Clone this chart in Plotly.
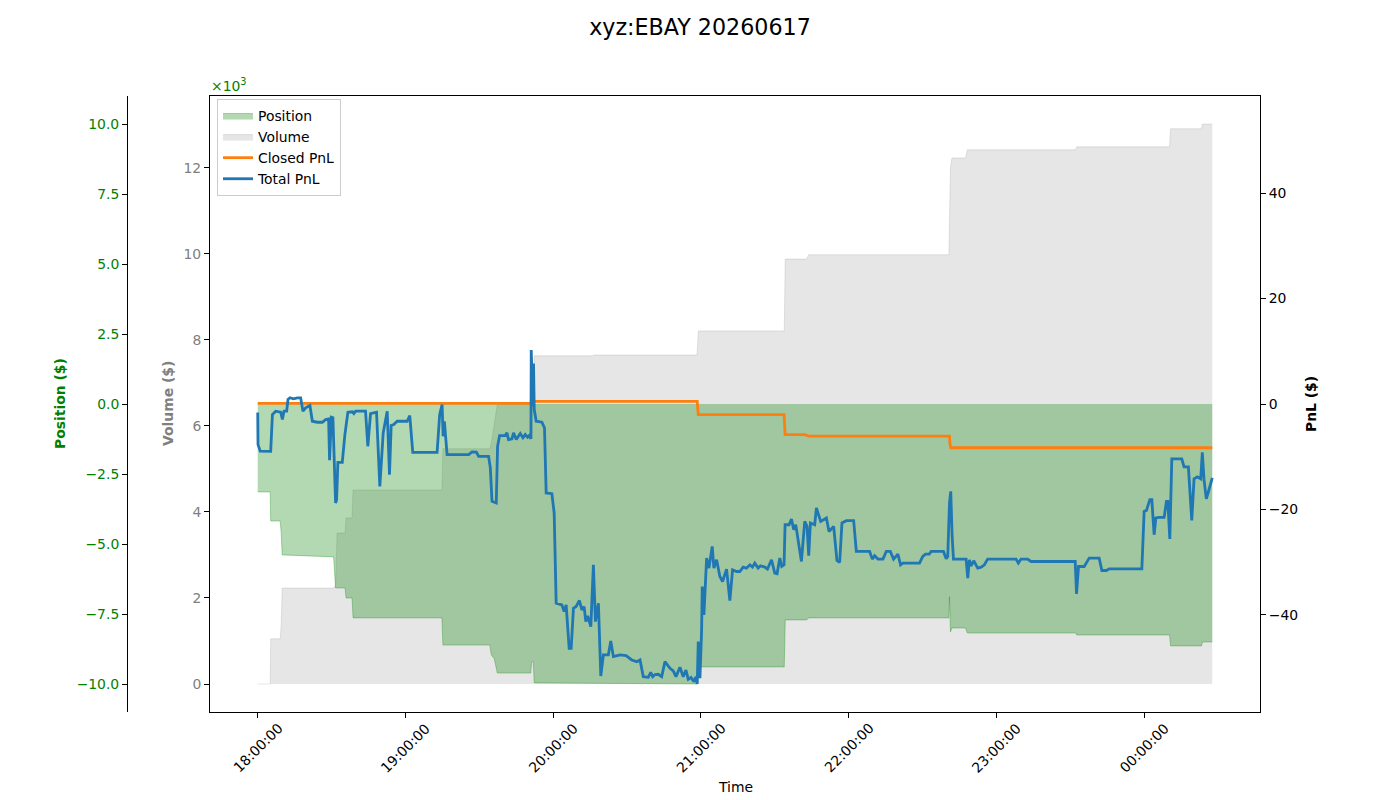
import plotly.graph_objects as go
from datetime import datetime, timedelta

SESSION_DATE = "2026-06-17"
TITLE = "xyz:EBAY 20260617"

# ---- Position / Volume (sampled at trade times) ----
pos_times = [
    "18:00:00", "18:05:04", "18:05:16", "18:09:07", "18:09:32", "18:09:56",
    "18:30:49", "18:31:37", "18:32:14", "18:35:28", "18:35:53", "18:38:19",
    "18:38:43", "19:14:48", "19:15:12", "19:34:15", "19:34:52", "19:36:05",
    "19:37:18", "19:50:53", "19:51:17", "19:51:53", "19:52:18", "20:16:01",
    "20:16:25", "20:57:34", "20:58:23", "20:58:59", "21:33:51", "21:34:15",
    "21:42:58", "21:43:47", "22:40:44", "22:40:57", "22:41:21", "22:41:57",
    "22:47:26", "22:48:14", "23:32:13", "23:32:37", "00:10:20", "00:10:44",
    "00:23:18", "00:23:42", "00:27:41",
]
position = [
    -3140, -3140, -4180, -4180, -4600, -5390,
    -5460, -6570, -6570, -6570, -6930, -6930,
    -7640, -7640, -8610, -8610, -8960, -9100,
    -9610, -9610, -9200, -9200, -9960, -9970,
    -9970, -9980, -10000, -9390, -9390, -7710,
    -7710, -7640, -7640, -6880, -8140, -8000,
    -8000, -8180, -8180, -8250, -8250, -8640,
    -8640, -8500, -8500,
]
volume = [
    0, 0, 1050, 1050, 1370, 2230,
    2230, 2300, 3510, 3510, 3860, 3860,
    4510, 4510, 5470, 5470, 5600, 6000,
    6500, 6500, 6950, 6950, 7630, 7630,
    7650, 7650, 7650, 8210, 8210, 9880,
    9880, 9980, 9980, 10770, 12000, 12230,
    12230, 12420, 12420, 12490, 12490, 12910,
    12910, 13020, 13020,
]

# ---- Total PnL ----
pnl_times = [
    "18:00:00", "18:00:07", "18:01:01", "18:05:16", "18:05:58", "18:07:18", "18:09:19", "18:10:01",
    "18:10:40", "18:11:45", "18:12:17", "18:13:06", "18:14:28", "18:16:06", "18:17:26", "18:18:22",
    "18:19:28", "18:21:12", "18:22:11", "18:24:12", "18:26:14", "18:27:34", "18:28:47", "18:29:11",
    "18:29:53", "18:30:32", "18:31:37", "18:32:02", "18:32:33", "18:34:20", "18:35:24", "18:36:37",
    "18:38:24", "18:39:03", "18:39:44", "18:43:47", "18:44:43", "18:45:49", "18:48:15", "18:49:35",
    "18:50:58", "18:52:35", "18:53:31", "18:54:12", "18:55:15", "18:56:38", "19:00:41", "19:01:45",
    "19:02:58", "19:12:51", "19:13:54", "19:14:53", "19:15:17", "19:15:49", "19:16:54", "19:25:40",
    "19:27:02", "19:28:47", "19:29:43", "19:33:46", "19:34:28", "19:35:09", "19:36:53", "19:37:25",
    "19:38:14", "19:40:32", "19:41:13", "19:41:52", "19:43:15", "19:43:54", "19:45:00", "19:46:37",
    "19:47:43", "19:48:39", "19:49:35", "19:50:16", "19:50:58", "19:51:05", "19:51:46", "19:52:01",
    "19:52:18", "19:53:06", "19:55:25", "19:56:28", "19:57:09", "19:59:28", "20:00:24", "20:01:13",
    "20:03:31", "20:04:27", "20:05:16", "20:06:29", "20:07:18", "20:08:14", "20:09:19", "20:10:40",
    "20:11:38", "20:12:34", "20:13:15", "20:13:59", "20:15:17", "20:16:20", "20:17:09", "20:18:22",
    "20:19:20", "20:20:23", "20:22:25", "20:23:23", "20:24:27", "20:25:57", "20:27:10", "20:29:36",
    "20:31:54", "20:33:56", "20:35:16", "20:36:36", "20:38:38", "20:39:36", "20:40:25", "20:41:21",
    "20:42:41", "20:44:04", "20:45:24", "20:47:26", "20:48:46", "20:49:52", "20:51:29", "20:52:49",
    "20:53:55", "20:54:51", "20:55:57", "20:57:10", "20:57:59", "20:58:30", "20:58:55", "20:59:36",
    "21:00:17", "21:00:32", "21:01:13", "21:02:19", "21:03:15", "21:04:35", "21:05:16", "21:06:22",
    "21:07:42", "21:08:48", "21:10:25", "21:11:45", "21:12:51", "21:14:28", "21:15:48", "21:17:09",
    "21:18:31", "21:19:52", "21:20:57", "21:21:53", "21:23:14", "21:24:12", "21:25:57", "21:27:02",
    "21:28:40", "21:30:00", "21:30:56", "21:32:02", "21:32:50", "21:33:46", "21:34:11", "21:35:48",
    "21:36:46", "21:37:42", "21:38:31", "21:40:49", "21:42:10", "21:43:06", "21:43:47", "21:44:28",
    "21:46:13", "21:46:54", "21:48:39", "21:50:58", "21:52:01", "21:53:55", "21:55:15", "21:56:21",
    "21:57:17", "21:59:04", "22:02:02", "22:03:07", "22:08:31", "22:09:37", "22:10:33", "22:11:53",
    "22:13:55", "22:15:18", "22:16:55", "22:18:15", "22:20:00", "22:21:05", "22:22:01", "22:28:47",
    "22:30:07", "22:31:13", "22:32:43", "22:33:32", "22:38:31", "22:39:37", "22:40:15", "22:40:57",
    "22:41:28", "22:42:02", "22:42:34", "22:47:43", "22:48:22", "22:49:03", "22:49:45", "22:50:48",
    "22:52:25", "22:53:48", "22:55:08", "22:56:28", "23:07:59", "23:08:55", "23:10:00", "23:12:41",
    "23:14:04", "23:32:01", "23:32:33", "23:33:22", "23:35:40", "23:37:42", "23:41:45", "23:42:51",
    "23:44:43", "23:45:49", "23:59:05", "00:00:01", "00:00:57", "00:02:20", "00:03:08", "00:04:04",
    "00:04:46", "00:06:06", "00:08:08", "00:09:04", "00:09:38", "00:10:26", "00:11:15", "00:15:18",
    "00:16:14", "00:17:59", "00:19:21", "00:20:17", "00:21:37", "00:23:00", "00:23:38", "00:24:20",
    "00:25:16", "00:26:21", "00:27:41",
]
total_pnl = [
    -1.62, -7.70, -8.93, -8.97, -2.00, -1.37, -1.56, -2.95,
    -1.37, -1.37, 0.86, 1.18, 0.99, 1.18, 1.18, -1.37,
    -0.72, -0.29, -3.27, -3.46, -3.46, -2.95, -2.85, -10.68,
    -2.51, -2.62, -18.77, -18.15, -11.06, -11.06, -5.80, -1.56,
    -1.48, -1.81, -1.37, -1.37, -8.02, -1.81, -1.56, -15.62,
    -5.47, -1.37, -13.40, -4.09, -3.90, -3.27, -3.27, -2.19,
    -9.16, -9.16, -2.00, -0.10, -6.12, -3.27, -9.60, -9.60,
    -9.08, -9.14, -9.92, -9.92, -12.12, -18.47, -18.77, -8.02,
    -5.99, -5.99, -5.47, -6.75, -6.61, -5.47, -6.75, -5.61,
    -6.42, -5.80, -6.31, -5.99, -6.61, 10.22, -0.42, 7.70,
    -1.05, -3.27, -3.46, -4.52, -16.87, -17.01, -20.67, -37.78,
    -38.10, -39.37, -38.10, -46.33, -46.33, -38.73, -38.42, -37.28,
    -39.05, -38.42, -41.27, -40.19, -42.22, -30.50, -41.27, -37.78,
    -51.59, -47.60, -47.60, -44.94, -47.92, -47.79, -47.60, -47.73,
    -48.55, -48.87, -48.55, -51.72, -51.84, -50.89, -51.72, -51.31,
    -51.27, -51.72, -48.87, -50.13, -50.64, -51.72, -49.94, -51.72,
    -50.45, -52.22, -51.88, -52.67, -51.72, -53.11, -45.07, -52.03,
    -42.85, -34.62, -40.00, -29.23, -31.13, -27.02, -31.13, -29.55,
    -32.72, -33.67, -31.32, -37.28, -31.45, -31.77, -31.77, -30.94,
    -31.13, -30.50, -30.94, -30.18, -31.13, -30.69, -30.94, -31.32,
    -29.55, -32.08, -32.21, -29.23, -30.82, -30.50, -22.90, -22.90,
    -21.81, -23.85, -22.90, -29.87, -22.27, -23.22, -28.79, -22.57,
    -22.90, -19.72, -22.27, -21.62, -24.17, -23.22, -29.68, -30.06,
    -22.57, -22.14, -22.14, -27.97, -27.97, -29.42, -28.79, -29.42,
    -29.42, -27.97, -27.97, -29.42, -28.47, -30.50, -30.18, -30.18,
    -28.92, -28.47, -28.47, -27.97, -27.97, -29.36, -28.92, -18.77,
    -16.57, -25.12, -29.42, -29.42, -33.03, -29.55, -30.69, -29.74,
    -31.13, -30.94, -30.50, -29.42, -29.42, -30.18, -29.42, -29.42,
    -29.87, -29.87, -36.01, -30.82, -30.82, -29.23, -29.23, -31.58,
    -31.58, -31.26, -31.26, -20.37, -20.18, -18.15, -18.15, -24.80,
    -21.62, -21.51, -21.51, -18.47, -18.47, -25.61, -10.41, -10.41,
    -11.93, -11.93, -22.08, -14.21, -13.83, -14.21, -9.16, -14.35,
    -18.01, -16.25, -14.02,
]

# ---- Closed PnL ----
closed_times = [
    "18:00:00", "19:50:58", "19:51:05", "20:58:30", "20:58:55", "21:33:46",
    "21:34:11", "21:42:10", "21:43:47", "22:40:57", "22:41:10", "22:41:28", "00:27:41",
]
closed_pnl = [
    0.1, 0.1, 0.5, 0.5, -2.0, -2.0,
    -5.8, -5.8, -6.1, -6.1, -7.6, -8.3, -8.3,
]

# ---- Axis ticks ----
hour_ticks = ["18:00:00", "19:00:00", "20:00:00", "21:00:00", "22:00:00", "23:00:00", "00:00:00"]
pos_ticks = [-10000, -7500, -5000, -2500, 0, 2500, 5000, 7500, 10000]
vol_ticks = [0, 2000, 4000, 6000, 8000, 10000, 12000]
pnl_ticks = [-40, -20, 0, 20, 40]


def to_dt(hms):
    d = datetime.strptime(SESSION_DATE + " " + hms, "%Y-%m-%d %H:%M:%S")
    if d.hour < 12:
        d += timedelta(days=1)
    return d


pos_x = [to_dt(t) for t in pos_times]
pnl_x = [to_dt(t) for t in pnl_times]
closed_x = [to_dt(t) for t in closed_times]
tick_x = [to_dt(t) for t in hour_ticks]

t0, t1 = pnl_x[0], pnl_x[-1]
pad = (t1 - t0) * 0.05
x_range = [t0 - pad, t1 + pad]

vmax = max(volume)
vol_range = [-0.05 * vmax, 1.05 * vmax]
pmax = max(abs(v) for v in position) * 1.1
pos_range = [-pmax, pmax]
qmax = max(abs(v) for v in total_pnl + closed_pnl) * 1.1
pnl_range = [-qmax, qmax]

FONT = "DejaVu Sans"
TICK = 13.9
GREEN = "#008000"
GRAY = "#808080"
LW = 2.8


def fmt_minus(s):
    return s.replace("-", "\u2212")


fig = go.Figure()

fig.add_trace(go.Scatter(
    x=pos_x, y=volume, name="Volume", mode="lines", fill="tozeroy",
    fillcolor="rgba(128,128,128,0.2)", line=dict(color="rgba(128,128,128,0.2)", width=1),
    yaxis="y", legendrank=2,
))
fig.add_trace(go.Scatter(
    x=pos_x, y=position, name="Position", mode="lines", fill="tozeroy",
    fillcolor="rgba(0,128,0,0.3)", line=dict(color="rgba(0,128,0,0.3)", width=1),
    yaxis="y2", legendrank=1,
))
fig.add_trace(go.Scatter(
    x=closed_x, y=closed_pnl, name="Closed PnL", mode="lines",
    line=dict(color="#ff7f0e", width=LW), yaxis="y3", legendrank=3,
))
fig.add_trace(go.Scatter(
    x=pnl_x, y=total_pnl, name="Total PnL", mode="lines",
    line=dict(color="#1f77b4", width=LW), yaxis="y3", legendrank=4,
))

annotations = []
for tx, label in zip(tick_x, hour_ticks):
    annotations.append(dict(
        x=tx, xref="x", y=1 - 748 / 800, yref="paper", text=label, showarrow=False,
        textangle=-45, xanchor="center", yanchor="middle",
        font=dict(family=FONT, size=TICK, color="black"),
    ))

annotations += [
    dict(x=735 / 1400, y=1 - 787 / 800, xref="paper", yref="paper", text="Time",
         showarrow=False, xanchor="center", yanchor="middle",
         font=dict(family=FONT, size=TICK, color="black")),
    dict(x=60 / 1400, y=1 - 404 / 800, xref="paper", yref="paper", text="<b>Position ($)</b>",
         showarrow=False, textangle=-90, xanchor="center", yanchor="middle",
         font=dict(family=FONT, size=TICK, color=GREEN)),
    dict(x=168 / 1400, y=1 - 404 / 800, xref="paper", yref="paper", text="<b>Volume ($)</b>",
         showarrow=False, textangle=-90, xanchor="center", yanchor="middle",
         font=dict(family=FONT, size=TICK, color=GRAY)),
    dict(x=1311 / 1400, y=1 - 404 / 800, xref="paper", yref="paper", text="<b>PnL ($)</b>",
         showarrow=False, textangle=-90, xanchor="center", yanchor="middle",
         font=dict(family=FONT, size=TICK, color="black")),
    dict(x=209 / 1400, y=1 - 96 / 800, xref="paper", yref="paper", text="\u00d710<sup>3</sup>",
         showarrow=False, xanchor="left", yanchor="bottom",
         font=dict(family=FONT, size=TICK, color=GREEN)),
]

fig.update_layout(
    width=1400, height=800,
    margin=dict(l=0, r=0, t=0, b=0),
    paper_bgcolor="white", plot_bgcolor="white",
    font=dict(family=FONT, size=TICK, color="black"),
    title=dict(text=TITLE, x=0.5, xanchor="center", y=1 - 27 / 800, yanchor="middle",
               font=dict(family=FONT, size=22.2, color="black")),
    showlegend=True,
    legend=dict(x=217 / 1400, y=1 - 99 / 800, xanchor="left", yanchor="top",
                bgcolor="rgba(255,255,255,0.8)", bordercolor="#cccccc", borderwidth=1,
                font=dict(family=FONT, size=13.9, color="black"),
                tracegroupgap=0, itemwidth=30),
    xaxis=dict(
        domain=[210 / 1400, 1260 / 1400], type="date", range=x_range,
        tickvals=tick_x, showticklabels=False, ticks="outside", ticklen=5, tickwidth=1,
        tickcolor="black", showline=True, linecolor="black", linewidth=1, mirror=True,
        showgrid=False, zeroline=False, automargin=False,
    ),
    yaxis=dict(
        domain=[88 / 800, 704 / 800], range=vol_range, tickvals=vol_ticks,
        ticktext=[f"{v // 1000}" for v in vol_ticks],
        tickfont=dict(family=FONT, size=TICK, color=GRAY),
        ticks="outside", ticklen=5, tickwidth=1, tickcolor="black",
        showline=True, linecolor="black", linewidth=1, mirror=True,
        showgrid=False, zeroline=False, automargin=False,
    ),
    yaxis2=dict(
        overlaying="y", anchor="free", position=127 / 1400, side="left",
        range=pos_range, tickvals=pos_ticks,
        ticktext=[fmt_minus(f"{v / 1000:.1f}") for v in pos_ticks],
        tickfont=dict(family=FONT, size=TICK, color=GREEN),
        ticks="outside", ticklen=5, tickwidth=1, tickcolor="black",
        showline=True, linecolor="black", linewidth=1,
        showgrid=False, zeroline=False, automargin=False,
    ),
    yaxis3=dict(
        overlaying="y", anchor="x", side="right",
        range=pnl_range, tickvals=pnl_ticks,
        ticktext=[fmt_minus(str(v)) for v in pnl_ticks],
        tickfont=dict(family=FONT, size=TICK, color="black"),
        ticks="outside", ticklen=5, tickwidth=1, tickcolor="black",
        showline=True, linecolor="black", linewidth=1,
        showgrid=False, zeroline=False, automargin=False,
    ),
    annotations=annotations,
)

fig.write_html("out.html")
